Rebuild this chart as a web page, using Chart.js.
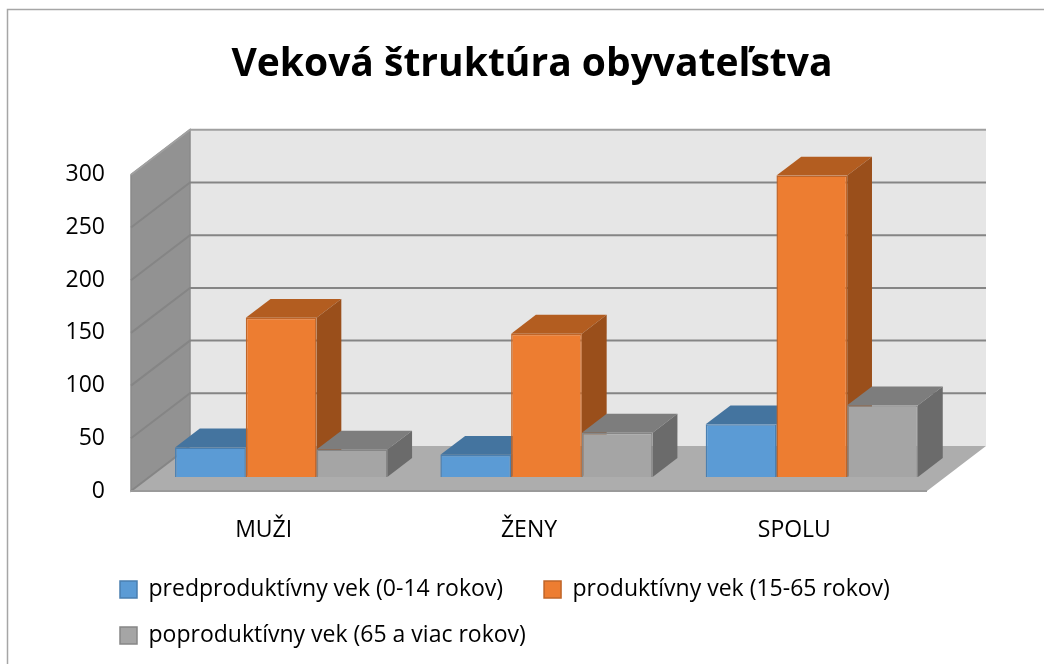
<!DOCTYPE html>
<html>
<head>
<meta charset="utf-8">
<style>
html, body { margin: 0; padding: 0; background: #fff; }
#wrap { width: 1044px; height: 664px; position: relative; }
</style>
<script src="https://cdn.jsdelivr.net/npm/chart.js@4"></script>
</head>
<body>
<div id="wrap"><canvas id="chart" width="1044" height="664"></canvas></div>
<script>
// values
var categories = ['MUŽI', 'ŽENY', 'SPOLU'];
var predproduktivny = [28, 21, 50];
var produktivny = [151, 136, 286];
var poproduktivny = [26, 42, 68];
var seriesNames = [
    'predproduktívny vek (0-14 rokov)',
    'produktívny vek (15-65 rokov)',
    'poproduktívny vek (65 a viac rokov)'
];

var FONT = '"Open Sans", sans-serif';
// depth of the box and how far into it the bars stand
var DEPTH_X = 59, DEPTH_Y = -45, BAR_X = 17.5, BAR_Y = -14;
var sideColors = { '#5b9bd5': ['#44749f', '#3c6690'], '#ed7d31': ['#b35d20', '#9a4f1b'], '#a5a5a5': ['#7d7d7d', '#6b6b6b'] };

function poly(ctx, pts, fill, stroke, lw) {
    ctx.beginPath();
    pts.forEach(function (p, i) {
        if (i === 0) ctx.moveTo(p[0], p[1]); else ctx.lineTo(p[0], p[1]);
    });
    ctx.closePath();
    ctx.fillStyle = fill;
    ctx.fill();
    if (stroke) {
        ctx.strokeStyle = stroke;
        ctx.lineWidth = lw || 1;
        ctx.stroke();
    }
}

function drawSides(c, chart, index) {
    var col = chart.data.datasets[index].backgroundColor;
    var dx = DEPTH_X * 0.42, dy = DEPTH_Y * 0.42;
    chart.getDatasetMeta(index).data.forEach(function (bar) {
        var p = bar.getProps(['x', 'y', 'base', 'width'], true);
        var l = p.x - p.width / 2, r = p.x + p.width / 2;
        poly(c, [[l, p.y], [r, p.y], [r + dx, p.y + dy], [l + dx, p.y + dy]], sideColors[col][0]);
        poly(c, [[r, p.y], [r + dx, p.y + dy], [r + dx, p.base + dy], [r, p.base]], sideColors[col][1]);
    });
}

var box3d = {
    id: 'box3d',
    afterLayout: function (chart) {
        // title and legend sit off the default centre in the original
        var t = chart.titleBlock, l = chart.legend;
        var shift = 532 - (t.left + t.right) / 2;
        t.left += shift;
        t.right += shift;
        shift = 97 - l.left;
        l.left += shift;
        l.right += shift;
        l.top -= 7;
        l.bottom -= 7;
    },
    beforeDraw: function (chart) {
        var c = chart.ctx;
        c.save();
        c.strokeStyle = '#a6a6a6';
        c.lineWidth = 1.5;
        c.strokeRect(7.5, 9.5, chart.width + 20, chart.height + 20);
        c.restore();
    },
    beforeDatasetsDraw: function (chart) {
        var c = chart.ctx, a = chart.chartArea, y = chart.scales.y;
        var y0 = y.getPixelForValue(0), yTop = y.getPixelForValue(y.max);
        c.save();
        // back wall, side wall, floor
        poly(c, [[a.left + DEPTH_X, yTop + DEPTH_Y], [a.right + DEPTH_X, yTop + DEPTH_Y], [a.right + DEPTH_X, y0 + DEPTH_Y], [a.left + DEPTH_X, y0 + DEPTH_Y]], '#e6e6e6');
        poly(c, [[a.left, yTop], [a.left + DEPTH_X, yTop + DEPTH_Y], [a.left + DEPTH_X, y0 + DEPTH_Y], [a.left, y0]], '#929292', '#8a8a8a', 1.5);
        poly(c, [[a.left, y0], [a.right, y0], [a.right + DEPTH_X, y0 + DEPTH_Y], [a.left + DEPTH_X, y0 + DEPTH_Y]], '#adadad');
        // gridlines run along the back wall and down the side wall
        y.ticks.forEach(function (t) {
            var py = y.getPixelForValue(t.value);
            c.beginPath();
            c.moveTo(a.left, py);
            c.lineTo(a.left + DEPTH_X, py + DEPTH_Y);
            if (t.value > 0) c.lineTo(a.right + DEPTH_X, py + DEPTH_Y);
            c.strokeStyle = t.value === y.max ? '#a0a0a0' : '#858585';
            c.lineWidth = 2;
            c.stroke();
        });
        c.beginPath();
        c.moveTo(a.left, y0);
        c.lineTo(a.right, y0);
        c.strokeStyle = '#9a9a9a';
        c.lineWidth = 2;
        c.stroke();
        c.restore();
        // left to right so the later series lies over the earlier one's side
        c.save();
        c.translate(BAR_X, BAR_Y);
        chart.data.datasets.forEach(function (ds, i) {
            drawSides(c, chart, i);
            chart.getDatasetMeta(i).controller.draw();
        });
        c.restore();
        return false;
    }
};

new Chart(document.getElementById('chart'), {
    type: 'bar',
    plugins: [box3d],
    data: {
        labels: categories,
        datasets: [
            { label: seriesNames[0], data: predproduktivny, backgroundColor: '#5b9bd5', borderColor: '#4a7fb0', borderWidth: 1.5 },
            { label: seriesNames[1], data: produktivny, backgroundColor: '#ed7d31', borderColor: '#c06528', borderWidth: 1.5 },
            { label: seriesNames[2], data: poproduktivny, backgroundColor: '#a5a5a5', borderColor: '#868686', borderWidth: 1.5 }
        ]
    },
    options: {
        responsive: false,
        animation: false,
        layout: { padding: { left: 0, right: 117, top: 0, bottom: 0 } },
        datasets: { bar: { categoryPercentage: 0.8, barPercentage: 1 } },
        scales: {
            x: {
                grid: { display: false },
                border: { display: false },
                ticks: { color: '#000', font: { family: FONT, size: 23 }, padding: 18 },
                afterFit: function (s) { s.height = 664 - 491 - 102; }
            },
            y: {
                min: 0,
                max: 300,
                grid: { display: false },
                border: { display: false },
                ticks: { stepSize: 50, color: '#000', font: { family: FONT, size: 23 }, padding: 18 },
                afterFit: function (s) { s.width = 131; }
            }
        },
        plugins: {
            tooltip: { enabled: false },
            title: {
                display: true,
                text: 'Veková štruktúra obyvateľstva',
                color: '#000',
                font: { family: FONT, size: 39, weight: 'bold' },
                padding: { top: 41, bottom: 87 }
            },
            legend: {
                position: 'bottom',
                align: 'start',
                labels: {
                    color: '#000',
                    font: { family: FONT, size: 23 },
                    boxWidth: 17,
                    boxHeight: 17,
                    padding: 23,
                    // trailing spaces widen the gap between items without widening the rows
                    generateLabels: function (chart) {
                        return Chart.defaults.plugins.legend.labels.generateLabels(chart).map(function (item) {
                            item.text += '   ';
                            return item;
                        });
                    }
                }
            }
        }
    }
});
</script>
</body>
</html>
